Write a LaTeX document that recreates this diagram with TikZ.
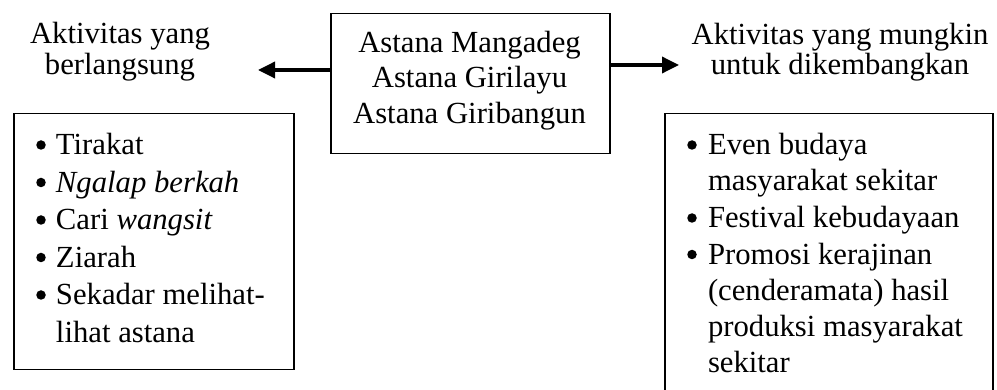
\documentclass[tikz,border=0pt]{standalone}
\usepackage{fontspec}
\setmainfont{Liberation Serif}
\usetikzlibrary{arrows.meta}
\begin{document}
\begin{tikzpicture}[x=1pt,y=-1pt,
  txt/.style={inner sep=0pt,outer sep=0pt,font=\fontsize{30.7}{37}\selectfont},
  ctxt/.style={txt,anchor=base},
  ltxt/.style={txt,anchor=base west},
  bul/.style={circle,fill=black,inner sep=0pt,minimum size=9.5pt},
  boxframe/.style={draw=black,line width=1.5pt,inner sep=0pt,anchor=north west},
  bigarrow/.style={line width=3.5pt,-{Triangle[length=17pt,width=16pt]}}]
\useasboundingbox (0,0) rectangle (997,390);
\clip (0,0) rectangle (997,390);
% center box
\node[boxframe,minimum width=279pt,minimum height=140pt] (cbox) at (330,13) {};
\node[ctxt] (c1) at (469.5,53) {Astana Mangadeg};
\node[ctxt] (c2) at (469.5,88) {Astana Girilayu};
\node[ctxt] (c3) at (469.5,124) {Astana Giribangun};
% headers
\node[ctxt] (lh1) at (120,44) {Aktivitas yang};
\node[ctxt] (lh2) at (120,75) {berlangsung};
\node[ctxt] (rh1) at (840,45) {Aktivitas yang mungkin};
\node[ctxt] (rh2) at (840,75) {untuk dikembangkan};
% arrows
\coordinate (ltip) at (258,70);
\coordinate (rtip) at (679,65);
\draw[bigarrow] (cbox.west |- ltip) -- (ltip);
\draw[bigarrow] (cbox.east |- rtip) -- (rtip);
% left box
\node[boxframe,minimum width=280pt,minimum height=256pt] (lbox) at (13,113) {};
\node[bul] (lb1) at (41,145) {};
\node[ltxt] (l1) at (56,155) {Tirakat};
\node[bul] (lb2) at (41,182.5) {};
\node[ltxt] (l2) at (56,192.5) {\textit{Ngalap berkah}};
\node[bul] (lb3) at (41,220) {};
\node[ltxt] (l3) at (56,230) {Cari \textit{wangsit}};
\node[bul] (lb4) at (41,257.5) {};
\node[ltxt] (l4) at (56,267.5) {Ziarah};
\node[bul] (lb5) at (41,295) {};
\node[ltxt] (l5) at (56,305) {Sekadar melihat-};
\node[ltxt] (l6) at (56,342) {lihat astana};
% right box
\node[boxframe,minimum width=328pt,minimum height=300pt] (rbox) at (664,113) {};
\node[bul] (rb1) at (692,145) {};
\node[ltxt] (r1) at (708,155) {Even budaya};
\node[ltxt] (r2) at (708,191) {masyarakat sekitar};
\node[bul] (rb3) at (692,218) {};
\node[ltxt] (r3) at (708,228) {Festival kebudayaan};
\node[bul] (rb4) at (692,254.5) {};
\node[ltxt] (r4) at (708,264.5) {Promosi kerajinan};
\node[ltxt] (r5) at (708,300.5) {(cenderamata) hasil};
\node[ltxt] (r6) at (708,337) {produksi masyarakat};
\node[ltxt] (r7) at (708,373) {sekitar};
\end{tikzpicture}
\end{document}
